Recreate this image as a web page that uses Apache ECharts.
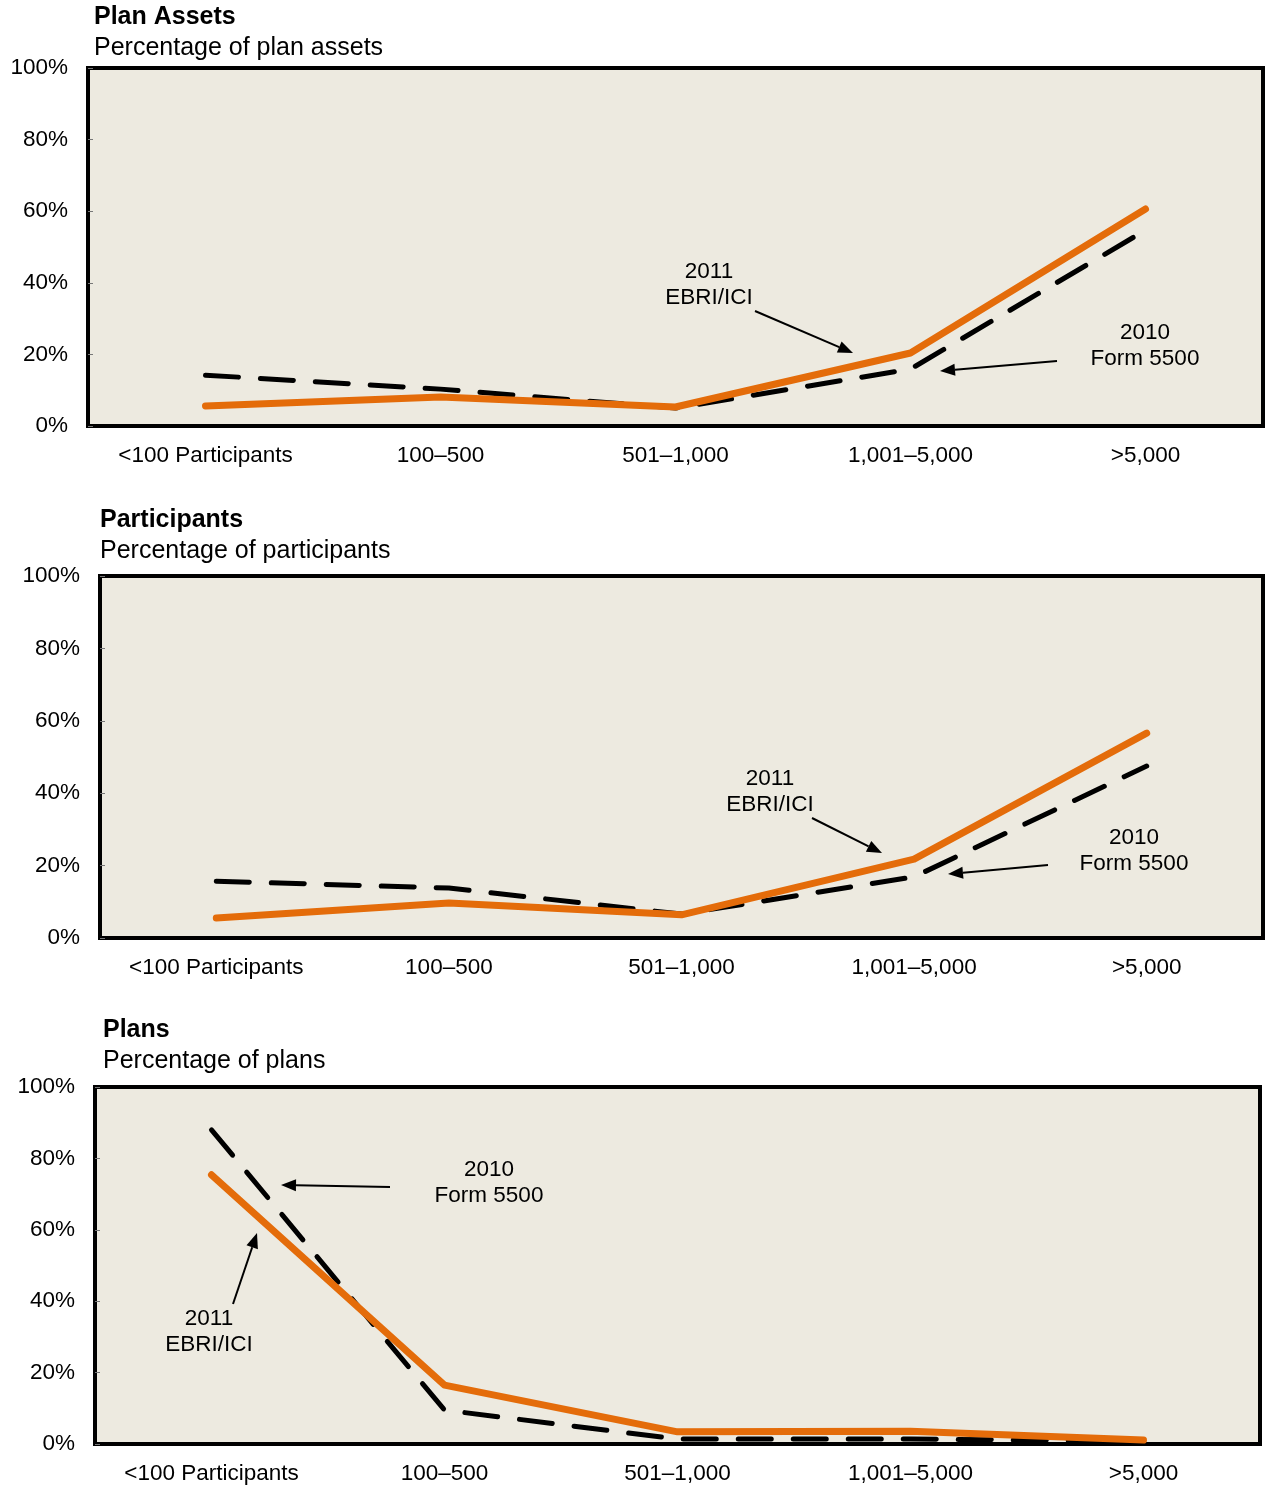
<!DOCTYPE html>
<html>
<head>
<meta charset="utf-8">
<script src="https://cdn.jsdelivr.net/npm/echarts@6/dist/echarts.min.js"></script>
<style>html,body{margin:0;padding:0;background:#fff;}#c{width:1265px;height:1488px;}</style>
</head>
<body>
<div id="c"></div>
<script>
const categories = ['<100 Participants', '100–500', '501–1,000', '1,001–5,000', '>5,000'];
const yTicks = [0, 20, 40, 60, 80, 100];

const assetsEbri = [5.6, 8.1, 5.3, 20.4, 60.6];
const assetsForm = [14.2, 10.3, 5.0, 15.9, 54.7];

const partsEbri = [5.5, 9.7, 6.4, 21.8, 56.6];
const partsForm = [15.7, 13.8, 6.6, 16.9, 47.5];

const plansEbri = [75.4, 16.5, 3.4, 3.6, 1.1];
const plansForm = [88.0, 9.5, 1.4, 1.4, 0.8];

const panelTitles = ['Plan Assets', 'Participants', 'Plans'];
const panelSubtitles = ['Percentage of plan assets', 'Percentage of participants', 'Percentage of plans'];

const FONT = '"Liberation Sans", Arial, sans-serif';
const ORANGE = '#E46C0A';
const BG = '#EDEAE0';

const grids = [
  {left: 88, top: 68, width: 1175, height: 358},
  {left: 100, top: 576, width: 1163, height: 362},
  {left: 95, top: 1087, width: 1165, height: 357}
];
const titlePos = [{left: 94, top: 5}, {left: 100, top: 508}, {left: 103, top: 1018}];

const ebriSets = [assetsEbri, partsEbri, plansEbri];
const formSets = [assetsForm, partsForm, plansForm];

function arrow(x1, y1, x2, y2) {
  const ang = Math.atan2(y2 - y1, x2 - x1);
  const L = 15, W = 6;
  const bx = x2 - L * Math.cos(ang), by = y2 - L * Math.sin(ang);
  const px = -Math.sin(ang) * W, py = Math.cos(ang) * W;
  return [
    {type: 'line', shape: {x1: x1, y1: y1, x2: bx, y2: by}, style: {stroke: '#000', lineWidth: 2}, z: 100},
    {type: 'polygon', shape: {points: [[x2, y2], [bx + px, by + py], [bx - px, by - py]]}, style: {fill: '#000'}, z: 100}
  ];
}
function label(x, y, lines) {
  return {type: 'text', x: x, y: y, z: 100,
    style: {text: lines.join('\n'), font: '22.5px ' + FONT, fill: '#000', align: 'center', verticalAlign: 'top', lineHeight: 26}};
}

const graphics = [].concat(
  label(709, 259, ['2011', 'EBRI/ICI']), arrow(755, 311, 853, 353),
  label(1145, 320, ['2010', 'Form 5500']), arrow(1057, 361, 940, 371),
  label(770, 766, ['2011', 'EBRI/ICI']), arrow(812, 818, 882, 853),
  label(1134, 825, ['2010', 'Form 5500']), arrow(1048, 865, 948, 874),
  label(489, 1157, ['2010', 'Form 5500']), arrow(390, 1187, 281, 1185),
  label(209, 1306, ['2011', 'EBRI/ICI']), arrow(233, 1304, 257, 1233)
);

const option = {
  animation: false,
  backgroundColor: '#fff',
  textStyle: {fontFamily: FONT},
  title: panelTitles.map((t, i) => ({
    text: t, subtext: panelSubtitles[i], left: titlePos[i].left, top: titlePos[i].top, padding: 0, itemGap: 6,
    textStyle: {fontFamily: FONT, fontSize: 25, fontWeight: 'bold', color: '#000'},
    subtextStyle: {fontFamily: FONT, fontSize: 25, color: '#000'}
  })),
  grid: grids.map(g => Object.assign({show: true, backgroundColor: BG, borderColor: '#000', borderWidth: 4, containLabel: false}, g)),
  xAxis: grids.map((g, i) => ({
    type: 'category', gridIndex: i, data: categories, boundaryGap: true,
    axisLine: {show: false}, axisTick: {show: false},
    axisLabel: {color: '#000', fontSize: 22.5, fontFamily: FONT, margin: 18, interval: 0}
  })),
  yAxis: grids.map((g, i) => ({
    type: 'value', gridIndex: i, min: yTicks[0], max: yTicks[yTicks.length - 1], interval: 20,
    axisLine: {show: false}, splitLine: {show: false},
    axisTick: {show: true, inside: true, length: 5, lineStyle: {color: '#777', width: 1}},
    axisLabel: {color: '#000', fontSize: 22.5, fontFamily: FONT, margin: 20, formatter: '{value}%'}
  })),
  series: [].concat(...grids.map((g, i) => [
    {type: 'line', name: '2010 Form 5500', xAxisIndex: i, yAxisIndex: i, data: formSets[i], symbol: 'none',
      lineStyle: {color: '#000', width: 5, type: [33, 22], cap: 'round', join: 'round'}, z: 2},
    {type: 'line', name: '2011 EBRI/ICI', xAxisIndex: i, yAxisIndex: i, data: ebriSets[i], symbol: 'none',
      lineStyle: {color: ORANGE, width: 7, cap: 'round', join: 'round'}, z: 3}
  ])),
  graphic: graphics
};

const chart = echarts.init(document.getElementById('c'), null, {renderer: 'canvas'});
chart.setOption(option);
</script>
</body>
</html>
